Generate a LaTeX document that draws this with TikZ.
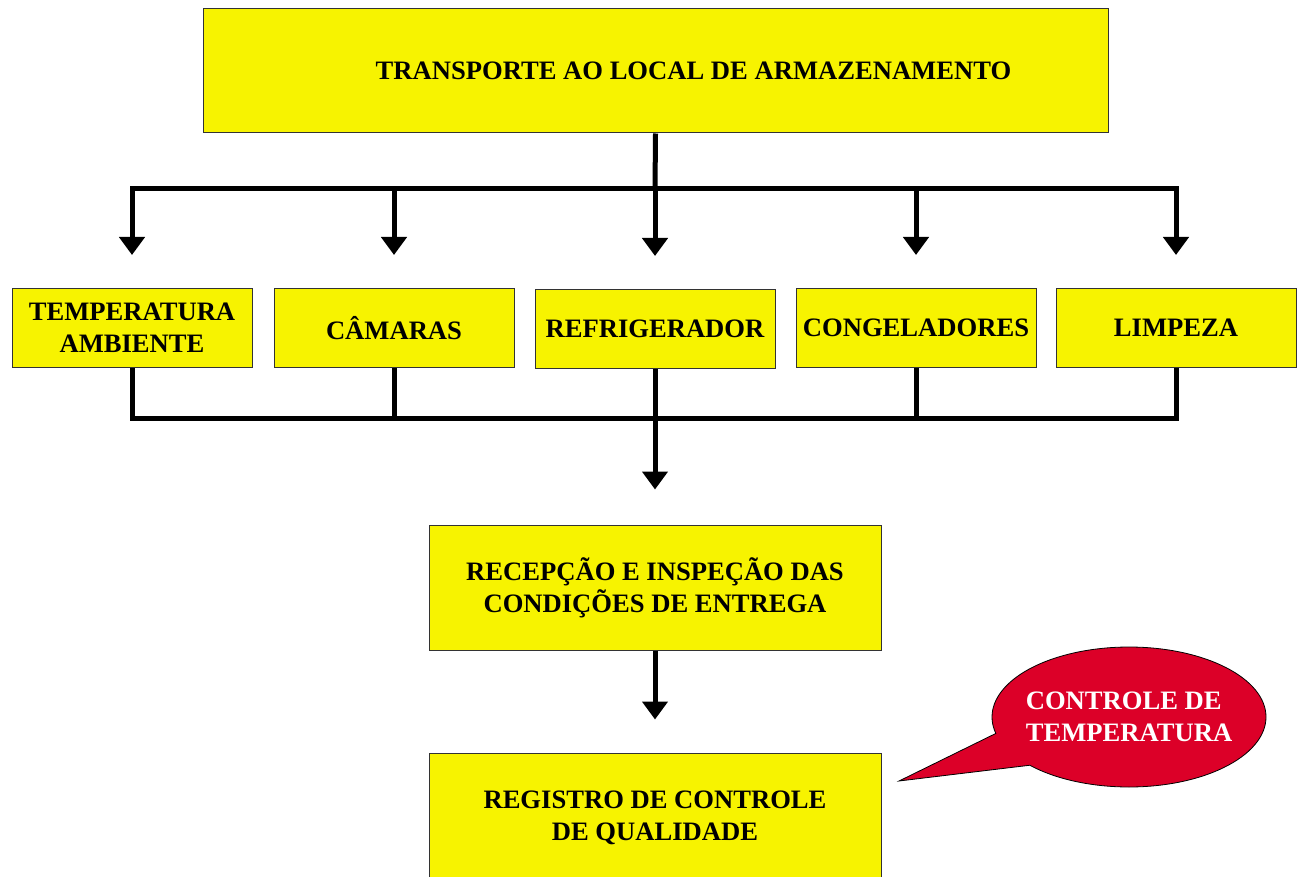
\documentclass[tikz,border=0pt]{standalone}
\usepackage{fontspec}
\setmainfont{Liberation Serif}
\usetikzlibrary{arrows.meta,shapes.callouts}
\definecolor{amarelo}{HTML}{F7F300}
\definecolor{vermelho}{HTML}{DC0028}
\begin{document}
\begin{tikzpicture}[x=1pt,y=-1pt]
\tikzset{caixa/.style={draw=black!80, line width=1pt, fill=amarelo, minimum width=240pt, minimum height=79pt, inner sep=0pt, align=center, font=\fontsize{26.6}{32}\selectfont\bfseries},
linha/.style={line width=5pt},
seta/.style={line width=5pt, -{Triangle[width=25pt,length=18pt]}},
setas/.style={line width=5pt, {Triangle[width=25pt,length=18pt]}-{Triangle[width=25pt,length=18pt]}, shorten <=33pt, shorten >=33pt},
balao/.style={ellipse callout, draw=black, line width=0.8pt, fill=vermelho, text=white, minimum width=274pt, minimum height=140pt, inner xsep=-12pt, inner ysep=0pt, callout pointer arc=30, align=left, font=\fontsize{26.6}{32}\selectfont\bfseries}}
\useasboundingbox (0,0) rectangle (1303,877);
\node[caixa, minimum width=905pt, minimum height=124pt] (N0) at (655.5,71) {\hspace*{76pt}TRANSPORTE AO LOCAL DE ARMAZENAMENTO};
\node[caixa] (N1) at (132,328) {TEMPERATURA\\AMBIENTE};
\node[caixa] (N2) at (394,328) {CÂMARAS};
\node[caixa] (N3) at (655,329) {REFRIGERADOR};
\node[caixa] (N4) at (916,328) {CONGELADORES};
\node[caixa] (N5) at (1176,328) {LIMPEZA};
\node[caixa, minimum width=452pt, minimum height=125pt] (N6) at (655,587.5) {RECEPÇÃO E INSPEÇÃO DAS\\CONDIÇÕES DE ENTREGA};
\node[caixa, minimum width=452pt, minimum height=130pt] (N7) at (655,818) {REGISTRO DE CONTROLE\\DE QUALIDADE};
\coordinate (H) at (655,189);
\coordinate (B) at (655,418);
\coordinate (P) at (899,781);
\node[balao, callout absolute pointer={(P)}] (C) at (1129,717) {CONTROLE DE\\TEMPERATURA};
\draw[linha] (N0.south) -- (H);
\draw[setas] (N1.north) -- (N1.north |- H) -- (N5.north |- H) -- (N5.north);
\draw[seta, shorten >=33pt] (N2.north |- H) -- (N2.north);
\draw[seta, shorten >=33pt] (H) -- (N3.north);
\draw[seta, shorten >=33pt] (N4.north |- H) -- (N4.north);
\draw[linha] (N1.south) -- (N1.south |- B) -- (N5.south |- B) -- (N5.south);
\draw[linha] (N2.south) -- (N2.south |- B);
\draw[linha] (N4.south) -- (N4.south |- B);
\draw[linha] (N3.south) -- (B);
\draw[seta, shorten >=35pt] (B) -- (N6.north);
\draw[seta, shorten >=33pt] (N6.south) -- (N7.north);
\end{tikzpicture}
\end{document}
